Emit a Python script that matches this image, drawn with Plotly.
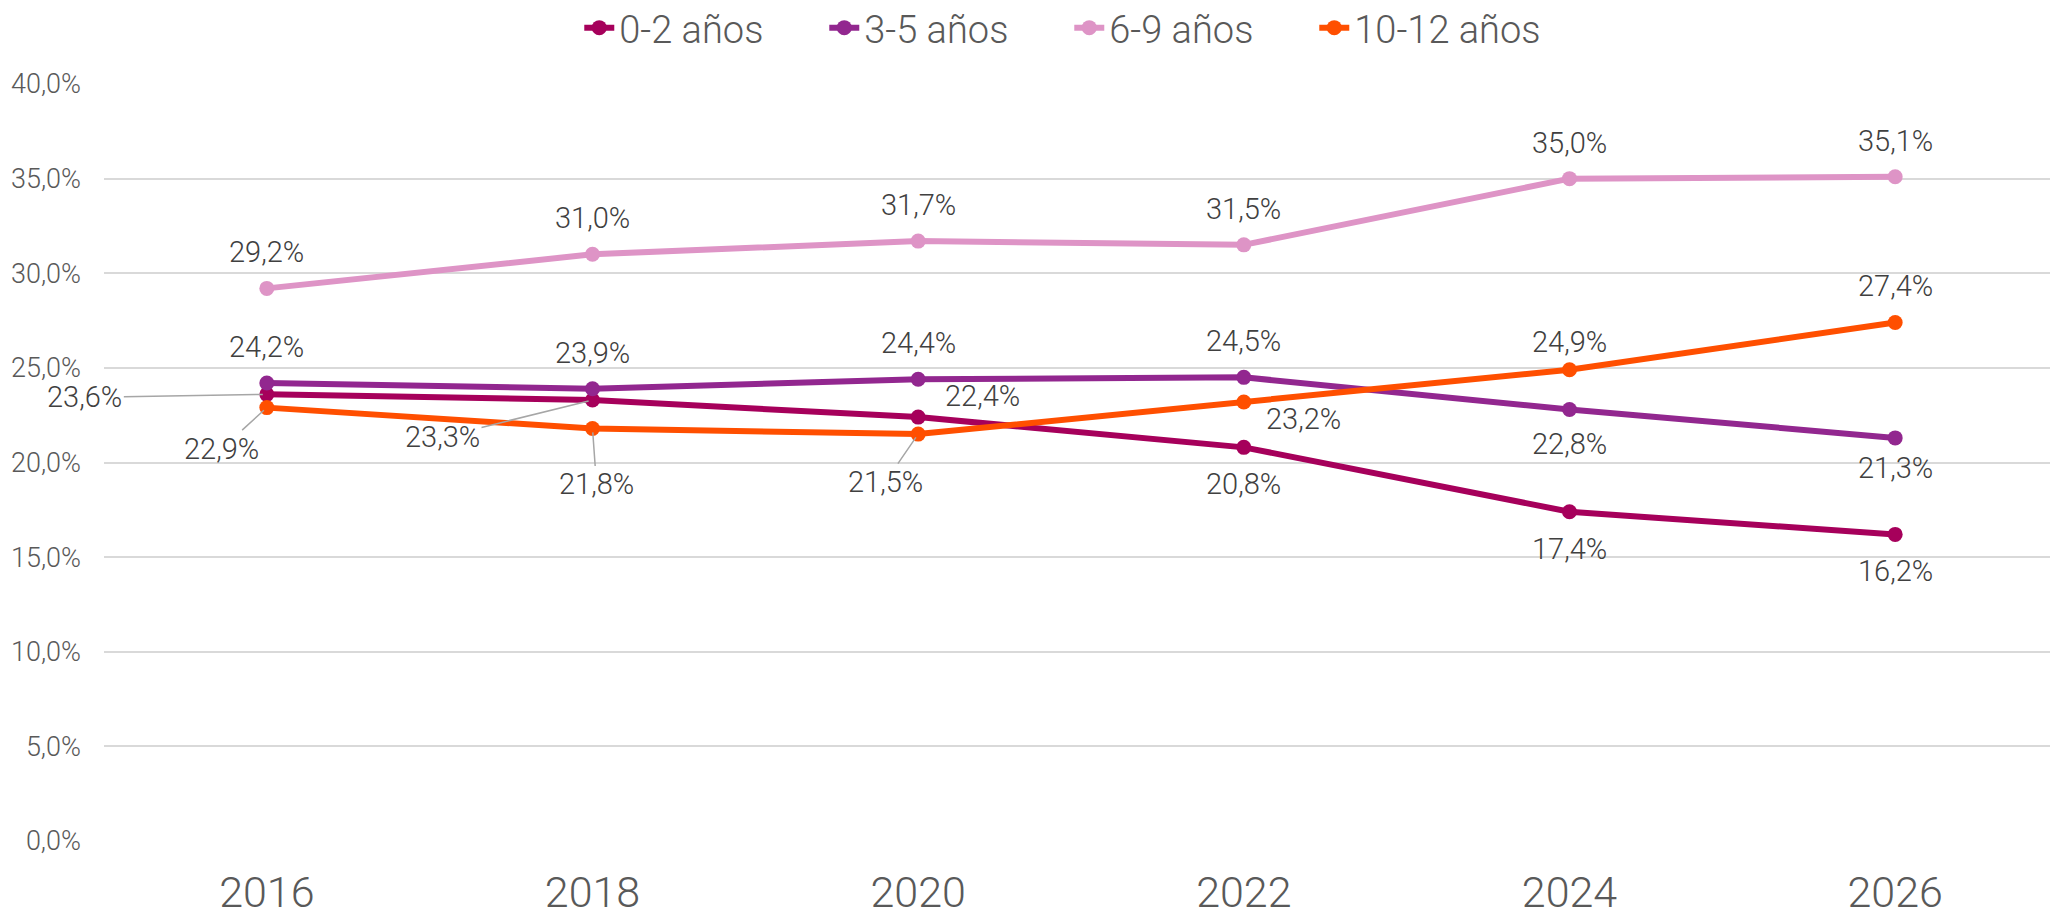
import plotly.graph_objects as go

years = ["2016", "2018", "2020", "2022", "2024", "2026"]
s_0_2 = [23.6, 23.3, 22.4, 20.8, 17.4, 16.2]
s_3_5 = [24.2, 23.9, 24.4, 24.5, 22.8, 21.3]
s_6_9 = [29.2, 31.0, 31.7, 31.5, 35.0, 35.1]
s_10_12 = [22.9, 21.8, 21.5, 23.2, 24.9, 27.4]
y_ticks = [0, 5, 10, 15, 20, 25, 30, 35, 40]

series = [
    ("0-2 años", s_0_2, "#A6005B"),
    ("3-5 años", s_3_5, "#92278F"),
    ("6-9 años", s_6_9, "#DE94C6"),
    ("10-12 años", s_10_12, "#FF4F00"),
]

# label placement per point: (dx, dy, leader) in pixels, dy positive = down
U = (0, -36, False)
D = (0, 37, False)
placements = {
    "0-2 años": [(-182, 3, True), (-150, 37, True), (64, -21, False), D, D, D],
    "3-5 años": [U, U, U, U, (0, 34, False), (0, 30, False)],
    "6-9 años": [U, U, U, U, U, U],
    "10-12 años": [(-45, 41, True), (4, 56, True), (-33, 48, True), (60, 17, False), (0, -28, False), U],
}

FONT = "Roboto, sans-serif"
W = 300

fig = go.Figure()
for name, vals, col in series:
    fig.add_trace(go.Scatter(
        x=years, y=vals, name=name, mode="lines+markers",
        line=dict(color=col, width=6), marker=dict(color=col, size=15),
    ))

annotations = []
for name, vals, col in series:
    for i, (v, (dx, dy, leader)) in enumerate(zip(vals, placements[name])):
        txt = f"{v:.1f}%".replace(".", ",")
        if leader:
            annotations.append(dict(
                x=i, y=v, xref="x", yref="y", text=txt, showarrow=True,
                arrowhead=0, arrowwidth=1.5, arrowcolor="#A6A6A6",
                ax=dx, ay=dy, standoff=4,
                font=dict(family=FONT, size=29, color="#404040", weight=W),
            ))
        else:
            annotations.append(dict(
                x=i, y=v, xref="x", yref="y", text=txt, showarrow=False,
                xshift=dx, yshift=-dy,
                font=dict(family=FONT, size=29, color="#404040", weight=W),
            ))

fig.update_layout(
    width=2050, height=908,
    margin=dict(l=96, r=0, t=76, b=75),
    paper_bgcolor="white", plot_bgcolor="white",
    font=dict(family=FONT, color="#595959"),
    annotations=annotations,
    legend=dict(orientation="h", x=0.494, xanchor="center", y=0.978, yref="container",
                yanchor="middle", font=dict(family=FONT, size=38, color="#595959", weight=W),
                entrywidth=200, entrywidthmode="pixels", traceorder="normal",
                borderwidth=0),
    xaxis=dict(type="category", range=[-0.5, 5.5], showgrid=False, showline=False,
               ticks="", tickfont=dict(family=FONT, size=43, color="#595959", weight=W),
               ticklabelstandoff=22, automargin=False),
    yaxis=dict(range=[0, 40], tickvals=y_ticks,
               ticktext=[f"{t:.1f}%".replace(".", ",") for t in y_ticks],
               showgrid=True, gridcolor="#D9D9D9", gridwidth=1.5, zeroline=False,
               showline=False, tickfont=dict(family=FONT, size=27, color="#595959", weight=W),
               ticklabelstandoff=22, automargin=False),
)

fig.write_html("out.html")
